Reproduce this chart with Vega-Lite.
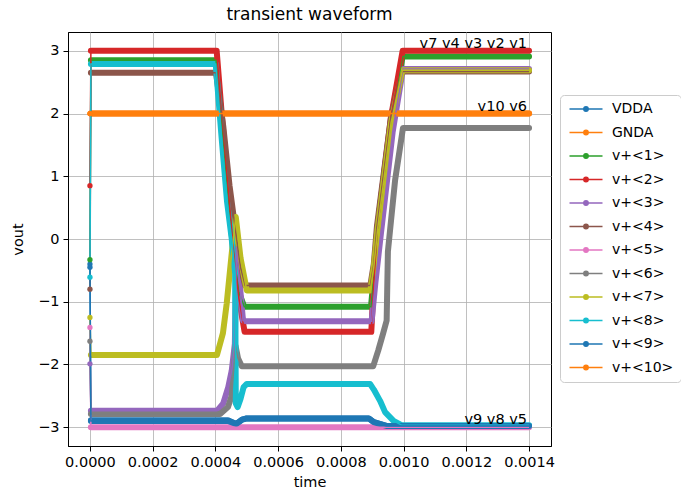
{
  "$schema": "https://vega.github.io/schema/vega-lite/v6.json",
  "width": 483,
  "height": 414,
  "autosize": {"type": "none"},
  "padding": {"left": 68, "top": 32, "right": 130, "bottom": 47},
  "title": {"text": "transient waveform", "fontSize": 17, "font": "DejaVu Sans", "fontWeight": "normal", "color": "black", "offset": 8, "anchor": "middle"},
  "config": {
    "font": "DejaVu Sans",
    "view": {"stroke": "black", "strokeWidth": 1},
    "axis": {
      "labelFont": "DejaVu Sans", "labelFontSize": 14.5, "labelColor": "black",
      "titleFont": "DejaVu Sans", "titleFontSize": 14.5, "titleFontWeight": "normal", "titleColor": "black",
      "tickColor": "black", "tickSize": 5, "domainColor": "black",
      "gridColor": "#b0b0b0", "gridWidth": 0.8, "gridOpacity": 1, "labelPadding": 4
    }
  },
  "datasets": {
    "w": [
      {"s":"VDDA","t":0,"v":-0.40},{"s":"VDDA","t":0.000003,"v":-2.89},{"s":"VDDA","t":0.00044,"v":-2.89},{"s":"VDDA","t":0.000466,"v":-2.95},{"s":"VDDA","t":0.000485,"v":-2.88},{"s":"VDDA","t":0.0005,"v":-2.86},{"s":"VDDA","t":0.000889,"v":-2.86},{"s":"VDDA","t":0.000905,"v":-2.92},{"s":"VDDA","t":0.000945,"v":-2.98},{"s":"VDDA","t":0.0014,"v":-2.98},
      {"s":"GNDA","t":0,"v":2.0},{"s":"GNDA","t":0.000003,"v":2.0},{"s":"GNDA","t":0.0014,"v":2.0},
      {"s":"v+<1>","t":0,"v":-0.33},{"s":"v+<1>","t":0.000003,"v":2.85},{"s":"v+<1>","t":0.000402,"v":2.85},{"s":"v+<1>","t":0.00042,"v":1.85},{"s":"v+<1>","t":0.00044,"v":0.75},{"s":"v+<1>","t":0.000458,"v":-0.25},{"s":"v+<1>","t":0.000475,"v":-0.85},{"s":"v+<1>","t":0.000492,"v":-1.08},{"s":"v+<1>","t":0.000896,"v":-1.08},{"s":"v+<1>","t":0.000905,"v":-0.6},{"s":"v+<1>","t":0.000916,"v":0.15},{"s":"v+<1>","t":0.00096,"v":1.9},{"s":"v+<1>","t":0.000997,"v":2.91},{"s":"v+<1>","t":0.0014,"v":2.91},
      {"s":"v+<2>","t":0,"v":0.85},{"s":"v+<2>","t":0.000003,"v":3.0},{"s":"v+<2>","t":0.000404,"v":3.0},{"s":"v+<2>","t":0.00042,"v":2.0},{"s":"v+<2>","t":0.00044,"v":0.85},{"s":"v+<2>","t":0.000458,"v":-0.2},{"s":"v+<2>","t":0.000475,"v":-0.95},{"s":"v+<2>","t":0.000493,"v":-1.48},{"s":"v+<2>","t":0.000897,"v":-1.48},{"s":"v+<2>","t":0.000905,"v":-0.7},{"s":"v+<2>","t":0.000916,"v":0.15},{"s":"v+<2>","t":0.00096,"v":1.95},{"s":"v+<2>","t":0.000997,"v":3.0},{"s":"v+<2>","t":0.0014,"v":3.0},
      {"s":"v+<3>","t":0,"v":-1.99},{"s":"v+<3>","t":0.000003,"v":-2.74},{"s":"v+<3>","t":0.000405,"v":-2.74},{"s":"v+<3>","t":0.000425,"v":-2.62},{"s":"v+<3>","t":0.000441,"v":-2.36},{"s":"v+<3>","t":0.000452,"v":-2.1},{"s":"v+<3>","t":0.000462,"v":-1.67},{"s":"v+<3>","t":0.000467,"v":-0.12},{"s":"v+<3>","t":0.000488,"v":-1.3},{"s":"v+<3>","t":0.000498,"v":-1.31},{"s":"v+<3>","t":0.000898,"v":-1.31},{"s":"v+<3>","t":0.00091,"v":-0.7},{"s":"v+<3>","t":0.000928,"v":0.1},{"s":"v+<3>","t":0.000965,"v":1.7},{"s":"v+<3>","t":0.000998,"v":2.71},{"s":"v+<3>","t":0.0014,"v":2.71},
      {"s":"v+<4>","t":0,"v":-0.80},{"s":"v+<4>","t":0.000003,"v":2.65},{"s":"v+<4>","t":0.000402,"v":2.65},{"s":"v+<4>","t":0.000425,"v":1.8},{"s":"v+<4>","t":0.000445,"v":0.85},{"s":"v+<4>","t":0.000465,"v":0.1},{"s":"v+<4>","t":0.00048,"v":-0.45},{"s":"v+<4>","t":0.000495,"v":-0.74},{"s":"v+<4>","t":0.000894,"v":-0.74},{"s":"v+<4>","t":0.000905,"v":-0.4},{"s":"v+<4>","t":0.000915,"v":0.2},{"s":"v+<4>","t":0.00096,"v":1.95},{"s":"v+<4>","t":0.000995,"v":2.67},{"s":"v+<4>","t":0.0014,"v":2.67},
      {"s":"v+<5>","t":0,"v":-1.41},{"s":"v+<5>","t":0.000003,"v":-3.0},{"s":"v+<5>","t":0.0014,"v":-3.0},
      {"s":"v+<6>","t":0,"v":-1.63},{"s":"v+<6>","t":0.000003,"v":-2.79},{"s":"v+<6>","t":0.000415,"v":-2.79},{"s":"v+<6>","t":0.00044,"v":-2.68},{"s":"v+<6>","t":0.000452,"v":-2.5},{"s":"v+<6>","t":0.000464,"v":-1.7},{"s":"v+<6>","t":0.000472,"v":-1.9},{"s":"v+<6>","t":0.000484,"v":-2.03},{"s":"v+<6>","t":0.000903,"v":-2.03},{"s":"v+<6>","t":0.000919,"v":-1.78},{"s":"v+<6>","t":0.000935,"v":-1.5},{"s":"v+<6>","t":0.000946,"v":-1.3},{"s":"v+<6>","t":0.00095,"v":-0.2},{"s":"v+<6>","t":0.000973,"v":0.94},{"s":"v+<6>","t":0.000998,"v":1.77},{"s":"v+<6>","t":0.0014,"v":1.77},
      {"s":"v+<7>","t":0,"v":-1.25},{"s":"v+<7>","t":0.000003,"v":-1.85},{"s":"v+<7>","t":0.000405,"v":-1.85},{"s":"v+<7>","t":0.000424,"v":-1.5},{"s":"v+<7>","t":0.000436,"v":-1.03},{"s":"v+<7>","t":0.000452,"v":-0.23},{"s":"v+<7>","t":0.000465,"v":0.35},{"s":"v+<7>","t":0.00048,"v":-0.3},{"s":"v+<7>","t":0.0005,"v":-0.82},{"s":"v+<7>","t":0.000894,"v":-0.82},{"s":"v+<7>","t":0.000905,"v":-0.45},{"s":"v+<7>","t":0.000917,"v":0.15},{"s":"v+<7>","t":0.00096,"v":1.85},{"s":"v+<7>","t":0.000996,"v":2.69},{"s":"v+<7>","t":0.0014,"v":2.69},
      {"s":"v+<8>","t":0,"v":-0.61},{"s":"v+<8>","t":0.000003,"v":2.79},{"s":"v+<8>","t":0.000401,"v":2.79},{"s":"v+<8>","t":0.00042,"v":1.6},{"s":"v+<8>","t":0.000437,"v":0.6},{"s":"v+<8>","t":0.000452,"v":0.0},{"s":"v+<8>","t":0.000463,"v":-0.55},{"s":"v+<8>","t":0.000465,"v":-2.62},{"s":"v+<8>","t":0.000471,"v":-2.68},{"s":"v+<8>","t":0.00048,"v":-2.55},{"s":"v+<8>","t":0.00049,"v":-2.36},{"s":"v+<8>","t":0.0005,"v":-2.31},{"s":"v+<8>","t":0.000893,"v":-2.31},{"s":"v+<8>","t":0.000905,"v":-2.4},{"s":"v+<8>","t":0.000925,"v":-2.58},{"s":"v+<8>","t":0.000941,"v":-2.76},{"s":"v+<8>","t":0.000968,"v":-2.9},{"s":"v+<8>","t":0.000995,"v":-2.97},{"s":"v+<8>","t":0.0014,"v":-2.97},
      {"s":"v+<9>","t":0,"v":-0.45},{"s":"v+<9>","t":0.000003,"v":-2.9},{"s":"v+<9>","t":0.00044,"v":-2.9},{"s":"v+<9>","t":0.000466,"v":-2.95},{"s":"v+<9>","t":0.000485,"v":-2.88},{"s":"v+<9>","t":0.0005,"v":-2.86},{"s":"v+<9>","t":0.000889,"v":-2.86},{"s":"v+<9>","t":0.000905,"v":-2.92},{"s":"v+<9>","t":0.000945,"v":-2.98},{"s":"v+<9>","t":0.0014,"v":-2.98},
      {"s":"v+<10>","t":0,"v":2.0},{"s":"v+<10>","t":0.000003,"v":2.0},{"s":"v+<10>","t":0.0014,"v":2.0}
    ],
    "lab": [
      {"t":0.0014,"v":3.0,"label":"v7 v4 v3 v2 v1"},
      {"t":0.0014,"v":2.0,"label":"v10 v6"},
      {"t":0.0014,"v":-3.0,"label":"v9 v8 v5"}
    ]
  },
  "encoding": {
    "x": {"field": "t", "type": "quantitative", "title": "time",
      "scale": {"domain": [-0.00007, 0.00147], "nice": false, "zero": false},
      "axis": {"values": [0, 0.0002, 0.0004, 0.0006, 0.0008, 0.001, 0.0012, 0.0014], "format": ".4f", "titlePadding": 7}},
    "y": {"field": "v", "type": "quantitative", "title": "vout",
      "scale": {"domain": [-3.3, 3.3], "nice": false, "zero": false},
      "axis": {"values": [-3, -2, -1, 0, 1, 2, 3], "labelExpr": "replace(datum.label, '-', '−')", "titlePadding": 12}}
  },
  "layer": [
    {
      "data": {"name": "w"},
      "transform": [{"filter": "datum.t > 0"}],
      "mark": {"type": "line", "strokeWidth": 6, "strokeCap": "round", "strokeJoin": "round"},
      "encoding": {
        "color": {"field": "s", "type": "nominal",
          "scale": {"domain": ["VDDA","GNDA","v+<1>","v+<2>","v+<3>","v+<4>","v+<5>","v+<6>","v+<7>","v+<8>","v+<9>","v+<10>"],
            "range": ["#1f77b4","#ff7f0e","#2ca02c","#d62728","#9467bd","#8c564b","#e377c2","#7f7f7f","#bcbd22","#17becf","#1f77b4","#ff7f0e"]},
          "legend": {"title": null, "orient": "none", "legendX": 492, "legendY": 63,
            "padding": 7, "fillColor": "white", "strokeColor": "#cccccc", "cornerRadius": 4,
            "labelFont": "DejaVu Sans", "labelFontSize": 14, "labelColor": "black",
            "symbolType": "M-3,0H3M-0.4,0a0.4,0.4 0 1,0 0.8,0a0.4,0.4 0 1,0 -0.8,0M-0.2,0a0.2,0.2 0 1,0 0.4,0a0.2,0.2 0 1,0 -0.4,0",
            "symbolSize": 121, "symbolStrokeWidth": 1.5, "symbolOffset": 12, "labelOffset": 19, "rowPadding": 9.5}}
      }
    },
    {
      "data": {"name": "w"},
      "mark": {"type": "line", "strokeWidth": 1.5},
      "encoding": {"color": {"field": "s", "type": "nominal"}}
    },
    {
      "data": {"name": "w"},
      "transform": [{"filter": "datum.t == 0"}],
      "mark": {"type": "circle", "size": 28, "opacity": 1},
      "encoding": {"color": {"field": "s", "type": "nominal"}}
    },
    {
      "data": {"name": "lab"},
      "mark": {"type": "text", "align": "right", "baseline": "bottom", "fontSize": 14.5, "font": "DejaVu Sans", "color": "black", "dx": -2},
      "encoding": {"text": {"field": "label"}}
    }
  ]
}
